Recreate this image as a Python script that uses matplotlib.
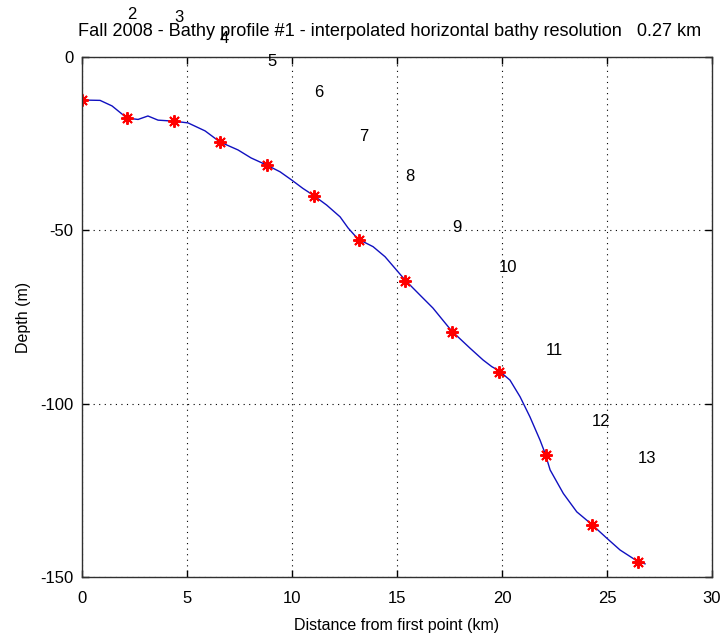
import numpy as np
import matplotlib
matplotlib.use('Agg')
import matplotlib.pyplot as plt

# interpolated bathymetry profile (km, m)
dist = [0, 0.86, 1.43, 2.14, 2.67, 3.14, 3.62, 4.38, 5.05, 5.86, 6.57, 7.43, 8.05, 8.81,
        9.43, 9.99, 10.52, 11.0, 11.65, 12.29, 12.67, 13.14, 13.86, 14.43, 15.38,
        16.1, 16.71, 17.6, 18.48, 19.1, 19.51, 19.86, 20.38, 20.86, 21.33, 21.81, 22.05,
        22.29, 22.92, 23.56, 24.27, 24.99, 25.62, 26.41, 26.81]
depth = [-12.4, -12.5, -14.1, -17.6, -18.0, -17.0, -18.2, -18.5, -19.0, -21.3, -24.5, -26.8, -29.1, -31.2,
         -33.1, -35.5, -37.9, -39.8, -42.7, -46.1, -49.3, -52.5, -54.7, -57.6, -64.3,
         -68.7, -72.4, -79.0, -84.0, -87.4, -89.3, -90.5, -93.2, -98.0, -103.8, -110.5, -114.3,
         -119.1, -125.9, -131.2, -134.8, -138.8, -142.2, -145.3, -146.2]

# station points
st_x = [0, 2.14, 4.38, 6.57, 8.81, 11.05, 13.19, 15.38, 17.62, 19.86, 22.1, 24.29, 26.48]
st_y = [-12.4, -17.6, -18.5, -24.6, -31.2, -40.2, -52.9, -64.5, -79.2, -90.8, -114.7, -135.0, -145.7]
st_labels = [str(i) for i in range(1, 14)]

plt.rcParams['font.family'] = ['Liberation Sans', 'DejaVu Sans']
plt.rcParams['font.size'] = 11.5
plt.rcParams['axes.unicode_minus'] = False

fig = plt.figure(figsize=(7.25, 6.41), dpi=100)
ax = fig.add_axes([0.1131, 0.0998, 0.8690, 0.8112])

ax.plot(dist, depth, color='#1010c0', lw=1.0)
ax.plot(st_x, st_y, ls='none', marker=(8, 2, 0), color='red', ms=9, mew=1.4)

ax.set_xlim(0, 30)
ax.set_ylim(-150, 0)

# station numbers; ones that land above the figure window are not shown (as in the original)
fig_h = fig.get_figheight() * fig.dpi
for x, y, s in zip(st_x, st_y, st_labels):
    if ax.transData.transform((x, y + 30))[1] > fig_h:
        continue
    ax.text(x, y + 30, s, ha='left', va='center', fontsize=12, clip_on=False)

ax.set_xticks(np.arange(0, 31, 5))
ax.set_yticks([-150, -100, -50, 0])
ax.grid(True, ls=(0, (1, 4)), color='black', lw=0.8)
ax.tick_params(direction='in', length=5, width=1, top=True, right=True, labelsize=12)
ax.tick_params(axis='x', pad=10)
ax.tick_params(axis='y', pad=6)
for sp in ax.spines.values():
    sp.set_color('#303030')
    sp.set_linewidth(1.0)

ax.set_title('Fall 2008 - Bathy profile #1 - interpolated horizontal bathy resolution   0.27 km',
             fontsize=13.1, pad=15, x=0.488)
ax.set_xlabel('Distance from first point (km)', labelpad=9)
ax.set_ylabel('Depth (m)', labelpad=7)

fig.savefig('out.png', dpi=100)
